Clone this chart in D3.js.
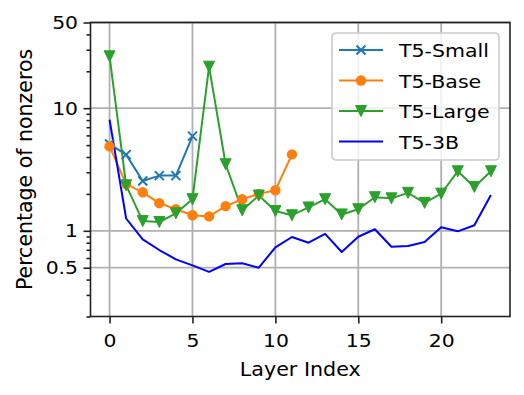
<!DOCTYPE html>
<html>
<head>
<meta charset="utf-8">
<script src="https://cdn.jsdelivr.net/npm/d3@7"></script>
<style>
  body { margin: 0; background: #fff; }
  svg text { font-family: "DejaVu Sans", sans-serif; fill: #000; }
</style>
</head>
<body>
<div id="chart"></div>
<script>
const layers = d3.range(24);
const t5Small = [5.1, 4.18, 2.55, 2.82, 2.82, 5.92];
const t5Base = [4.88, 2.40, 2.06, 1.68, 1.50, 1.34, 1.31, 1.59, 1.81, 2.0, 2.14, 4.2];
const t5Large = [26.5, 2.35, 1.20, 1.18, 1.39, 1.81, 21.8, 3.49, 1.47, 1.94, 1.45, 1.34,
                 1.55, 1.81, 1.36, 1.50, 1.88, 1.84, 2.04, 1.69, 2.01, 3.06, 2.28, 3.06];
const t53B = [8.05, 1.26, 0.851, 0.697, 0.585, 0.523, 0.462, 0.536, 0.543, 0.50, 0.733, 0.89,
              0.80, 0.945, 0.671, 0.894, 1.03, 0.741, 0.751, 0.81, 1.07, 0.99, 1.11, 1.96];
const xTicks = [0, 5, 10, 15, 20];
const yTicks = [0.5, 1, 10, 50];
const yMinor = [0.2, 0.3, 0.4, 0.6, 0.7, 0.8, 0.9, 2, 3, 4, 5, 6, 7, 8, 9, 20, 30, 40];

const series = [
    {name: 'T5-Small', values: t5Small, color: '#1f77b4', marker: 'x'},
    {name: 'T5-Base', values: t5Base, color: '#ff7f0e', marker: 'o'},
    {name: 'T5-Large', values: t5Large, color: '#2ca02c', marker: 'v'},
    {name: 'T5-3B', values: t53B, color: '#0000ff', marker: null}
];

const W = 524, H = 395;
const margin = {top: 22.5, right: 14, bottom: 78.5, left: 90.5};
const width = W - margin.left - margin.right;
const height = H - margin.top - margin.bottom;
const stretch = 1.1; // horizontal text looks wider than its height

const svg = d3.select('#chart').append('svg')
    .attr('width', W)
    .attr('height', H);

const g = svg.append('g')
    .attr('transform', `translate(${margin.left},${margin.top})`);

const x = d3.scaleLinear().domain([-1.15, 24.15]).range([0, width]);
const y = d3.scaleLog().domain([0.2, 50]).range([height, 0]);

// grid
g.selectAll('.vgrid').data(xTicks).enter().append('line')
    .attr('x1', d => x(d)).attr('x2', d => x(d))
    .attr('y1', 0).attr('y2', height)
    .attr('stroke', '#b0b0b0').attr('stroke-width', 1.8);
g.selectAll('.hgrid').data(yTicks).enter().append('line')
    .attr('x1', 0).attr('x2', width)
    .attr('y1', d => y(d)).attr('y2', d => y(d))
    .attr('stroke', '#b0b0b0').attr('stroke-width', 1.8);

// lines
const line = d3.line()
    .x((d, i) => x(layers[i]))
    .y(d => y(d));

g.append('clipPath').attr('id', 'clip')
    .append('rect').attr('width', width).attr('height', height);

const plot = g.append('g').attr('clip-path', 'url(#clip)');

series.forEach(s => {
    plot.append('path')
        .attr('d', line(s.values))
        .attr('fill', 'none')
        .attr('stroke', s.color)
        .attr('stroke-width', 2)
        .attr('stroke-linejoin', 'round');
});

function drawMarker(sel, type, color) {
    if (type === 'x') {
        sel.append('path')
            .attr('d', 'M-4.5,-4.5L4.5,4.5M-4.5,4.5L4.5,-4.5')
            .attr('stroke', color).attr('stroke-width', 2).attr('fill', 'none');
    } else if (type === 'o') {
        sel.append('circle').attr('r', 5.2).attr('fill', color);
    } else if (type === 'v') {
        sel.append('path')
            .attr('d', 'M0,5.5L-5.5,-5.5L5.5,-5.5Z')
            .attr('fill', color).attr('stroke', color).attr('stroke-width', 1);
    }
}

series.filter(s => s.marker).forEach(s => {
    s.values.forEach((v, i) => {
        const m = plot.append('g').attr('transform', `translate(${x(layers[i])},${y(v)})`);
        drawMarker(m, s.marker, s.color);
    });
});

// axes
const xAxis = g.append('g')
    .attr('transform', `translate(0,${height})`)
    .call(d3.axisBottom(x).tickValues(xTicks).tickFormat(d3.format('d')).tickSize(7).tickPadding(10));
const yAxis = g.append('g')
    .call(d3.axisLeft(y).tickValues(yTicks).tickFormat(d => String(d)).tickSize(7).tickPadding(5.5));
g.append('g')
    .call(d3.axisLeft(y).tickValues(yMinor).tickFormat('').tickSize(4))
    .select('.domain').remove();

xAxis.selectAll('text')
    .style('font-size', '18.5px')
    .attr('transform', `scale(${stretch},1)`);
yAxis.selectAll('text')
    .style('font-size', '18.5px')
    .attr('x', -12.5 / stretch)
    .attr('transform', `scale(${stretch},1)`);
g.selectAll('.tick line').attr('stroke', '#222').attr('stroke-width', 1.6);

// frame
g.append('rect')
    .attr('width', width).attr('height', height)
    .attr('fill', 'none').attr('stroke', '#222').attr('stroke-width', 1.6);
g.selectAll('.domain').remove();

// axis labels
g.append('text')
    .attr('transform', `translate(${width / 2},${height + 59}) scale(1.06,1)`)
    .attr('text-anchor', 'middle')
    .style('font-size', '19.5px')
    .text('Layer Index');
g.append('text')
    .attr('transform', `translate(${-59},${height / 2}) rotate(-90)`)
    .attr('text-anchor', 'middle')
    .style('font-size', '20.5px')
    .text('Percentage of nonzeros');

// legend
const legend = svg.append('g').attr('transform', 'translate(332,33)');
legend.append('rect')
    .attr('width', 167).attr('height', 127)
    .attr('rx', 4)
    .attr('fill', 'rgba(255,255,255,0.8)')
    .attr('stroke', '#cccccc').attr('stroke-width', 1.6);

series.forEach((s, i) => {
    const ly = 17 + i * 30.5;
    legend.append('line')
        .attr('x1', 7).attr('x2', 51)
        .attr('y1', ly).attr('y2', ly)
        .attr('stroke', s.color).attr('stroke-width', 2);
    if (s.marker) {
        const m = legend.append('g').attr('transform', `translate(29,${ly})`);
        drawMarker(m, s.marker, s.color);
    }
    legend.append('text')
        .attr('transform', `translate(67,${ly + 7}) scale(1.11,1)`)
        .style('font-size', '18.5px')
        .text(s.name);
});
</script>
</body>
</html>
